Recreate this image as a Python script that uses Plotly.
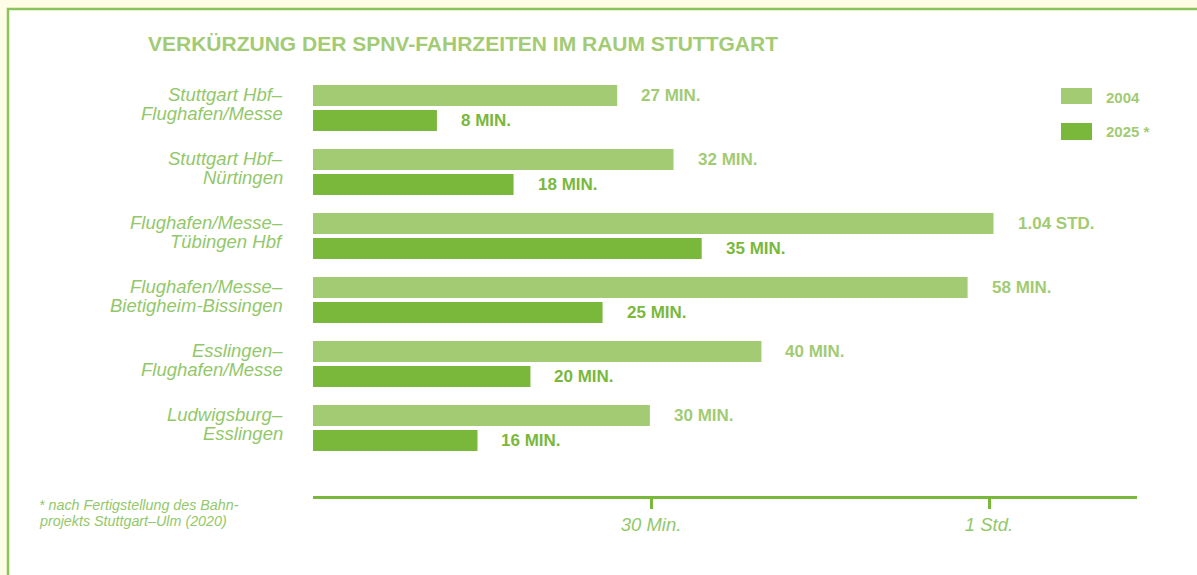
import plotly.graph_objects as go

# ---- data ----
routes = [
    "Stuttgart Hbf–<br>Flughafen/Messe",
    "Stuttgart Hbf–<br>Nürtingen",
    "Flughafen/Messe–<br>Tübingen Hbf",
    "Flughafen/Messe–<br>Bietigheim-Bissingen",
    "Esslingen–<br>Flughafen/Messe",
    "Ludwigsburg–<br>Esslingen",
]
series_names = ["2004", "2025 *"]
# bar lengths in minutes as drawn in the reference graphic
bars_2004 = [27.0, 32.0, 60.4, 58.1, 39.8, 29.9]
bars_2025 = [11.0, 17.8, 34.5, 25.7, 19.3, 14.6]
labels_2004 = ["27 MIN.", "32 MIN.", "1.04 STD.", "58 MIN.", "40 MIN.", "30 MIN."]
labels_2025 = ["8 MIN.", "18 MIN.", "35 MIN.", "25 MIN.", "20 MIN.", "16 MIN."]
tick_vals = [30, 60]
tick_text = ["30 Min.", "1 Std."]
title_text = "VERKÜRZUNG DER SPNV-FAHRZEITEN IM RAUM STUTTGART"
footnote_lines = ["* nach Fertigstellung des Bahn-", "projekts Stuttgart–Ulm (2020)"]

LIGHT = "#a2cb74"
DARK = "#79b83b"
TXT = "#93c86a"
BG = "#fffde6"
FONT = "Liberation Sans"
BOLD = "Liberation Sans"

W, H = 1197, 575
L, R, T, B = 313, 60, 76, 79
pw, ph = W - L - R, H - T - B

def px(x):
    return (x - L) / pw

def py(y):
    return (H - B - y) / ph

fig = go.Figure()
fig.add_trace(go.Bar(y=routes, x=bars_2004, orientation="h", name=series_names[0],
                     marker=dict(color=LIGHT, line=dict(width=0)), hoverinfo="skip"))
fig.add_trace(go.Bar(y=routes, x=bars_2025, orientation="h", name=series_names[1],
                     marker=dict(color=DARK, line=dict(width=0)), hoverinfo="skip"))

annotations = []
# category labels, one annotation per line for tight line spacing
for r in routes:
    lines = r.split("<br>")
    for ln, ys in zip(lines, [13.5, -5.5]):
        annotations.append(dict(x=0, y=r, xref="paper", yref="y", text=ln, showarrow=False,
                                xanchor="right", yanchor="middle", xshift=-28, yshift=ys,
                                font=dict(family=FONT, size=18.5, color=TXT, style="italic")))

for r, v, t in zip(routes, bars_2004, labels_2004):
    annotations.append(dict(x=v, y=r, xref="x", yref="y", text=t, showarrow=False,
                            xanchor="left", yanchor="middle", xshift=22, yshift=12.5,
                            font=dict(family=BOLD, size=17, color=LIGHT, weight="bold")))
for r, v, t in zip(routes, bars_2025, labels_2025):
    annotations.append(dict(x=v, y=r, xref="x", yref="y", text=t, showarrow=False,
                            xanchor="left", yanchor="middle", xshift=22, yshift=-12.5,
                            font=dict(family=BOLD, size=17, color=DARK, weight="bold")))

# title
annotations.append(dict(x=px(146), y=py(43), xref="paper", yref="paper", text=title_text,
                        showarrow=False, xanchor="left", yanchor="middle",
                        font=dict(family=FONT, size=21, color=LIGHT, weight="bold")))
# legend labels
annotations.append(dict(x=px(1104), y=py(97), xref="paper", yref="paper", text=series_names[0],
                        showarrow=False, xanchor="left", yanchor="middle",
                        font=dict(family=BOLD, size=15, color=LIGHT, weight="bold")))
annotations.append(dict(x=px(1104), y=py(131), xref="paper", yref="paper", text=series_names[1],
                        showarrow=False, xanchor="left", yanchor="middle",
                        font=dict(family=BOLD, size=15, color=LIGHT, weight="bold")))
# footnote
for ln, yy in zip(footnote_lines, [505, 521]):
    annotations.append(dict(x=px(37), y=py(yy), xref="paper", yref="paper", text=ln,
                            showarrow=False, xanchor="left", yanchor="middle", align="left",
                            font=dict(family=FONT, size=14.3, color=TXT, style="italic")))

shapes = [
    dict(type="rect", xref="paper", yref="paper", x0=px(8), x1=px(1260), y0=py(640), y1=py(9),
         fillcolor="white", line=dict(color="#8cc35a", width=2.5), layer="below"),
    dict(type="rect", xref="paper", yref="paper", x0=px(1061), x1=px(1092), y0=py(104), y1=py(88),
         fillcolor=LIGHT, line=dict(width=0)),
    dict(type="rect", xref="paper", yref="paper", x0=px(1061), x1=px(1092), y0=py(140), y1=py(123),
         fillcolor=DARK, line=dict(width=0)),
]

fig.update_layout(
    width=W, height=H,
    margin=dict(l=L, r=R, t=T, b=B, autoexpand=False),
    paper_bgcolor=BG, plot_bgcolor="rgba(0,0,0,0)",
    barmode="group", bargap=0.22, bargroupgap=0.16,
    showlegend=False,
    annotations=annotations, shapes=shapes,
    xaxis=dict(range=[0, pw / (338 / 30)], showgrid=False, zeroline=False,
               showline=True, linecolor=DARK, linewidth=3,
               ticks="outside", ticklen=10, tickwidth=3, tickcolor=DARK,
               tickvals=tick_vals, ticktext=tick_text,
               tickfont=dict(family=FONT, size=18.5, color=TXT, style="italic")),
    yaxis=dict(range=[5 + (496 - 428) / 64, -0.5], showgrid=False, zeroline=False,
               showline=False, ticks="", showticklabels=False),
)

fig.write_html(
    "out.html",
    config={"displayModeBar": False},
    post_script="document.body.style.margin='0';document.body.style.background='%s';" % BG,
)
